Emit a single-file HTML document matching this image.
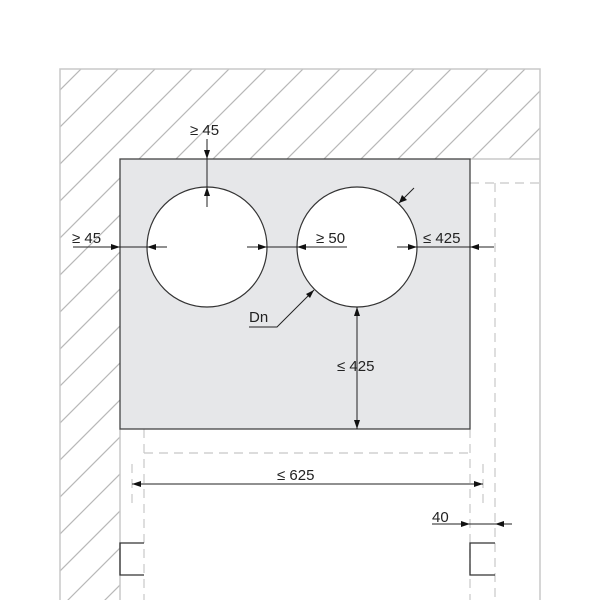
<!DOCTYPE html>
<html><head><style>html,body{margin:0;background:#fff;width:600px;height:600px;overflow:hidden}svg{display:block}</style></head><body>
<svg width="600" height="600" viewBox="0 0 600 600" xmlns="http://www.w3.org/2000/svg" font-family="Liberation Sans, sans-serif">
<defs>
<clipPath id="c"><path d="M60 69H540V159H120V600H60Z"/></clipPath>
</defs>
<g clip-path="url(#c)" stroke="#b8b8b8" stroke-width="1.2">
<path d="M40 110L100 50M40 147L130 57M40 184L170 54M40 221L200 61M40 258L240 58M40 295L270 65M40 332L310 62M40 369L345 64M40 406L380 66M40 443L420 63M40 480L455 65M40 517L490 67M40 554L530 64M40 591L565 66M40 628L600 68M60 645L640 65M80 662L680 62M100 679L720 59"/>
</g>
<g fill="none" stroke="#c8c8c8" stroke-width="1.5">
<path d="M60 600V69H540V600"/>
<path d="M470 159H540"/>
<path d="M120 429V600"/>
</g>
<g fill="none" stroke="#c8c8c8" stroke-width="1.2" stroke-dasharray="9,6">
<path d="M470 183H540M495 183V600M144 429V600M470 429V600M144 453H470"/>
<path d="M132 464V505M483 464V505"/>
</g>
<rect x="120" y="159" width="350" height="270" fill="#e6e7e9" stroke="#444" stroke-width="1.3"/>
<circle cx="207" cy="247" r="60" fill="#fff" stroke="#333" stroke-width="1.2"/>
<circle cx="357" cy="247" r="60" fill="#fff" stroke="#333" stroke-width="1.2"/>
<g stroke="#222" stroke-width="1" fill="none">
<path d="M207 139V207M73 247H167M247 247H347M297 247H347M397 247H494M357 307V429M249 327H277L314 290M414 188L399 203M132 484H483M432 524H512"/>
</g>
<g fill="#111">
<path d="M207 159l-3-9h6z"/><path d="M207 187l-3 9h6z"/>
<path d="M120 247l-9-3v6z"/><path d="M147 247l9-3v6z"/>
<path d="M267 247l-9-3v6z"/><path d="M297 247l9-3v6z"/>
<path d="M417 247l-9-3v6z"/><path d="M470 247l9-3v6z"/>
<path d="M357 307l-3 9h6z"/><path d="M357 429l-3-9h6z"/>
<path d="M314 290l-8 4 4 4z"/><path d="M399 203l3-8 5 5z"/>
<path d="M132 484l9-3v6z"/><path d="M483 484l-9-3v6z"/>
<path d="M470 524l-9-3v6z"/><path d="M495 524l9-3v6z"/>
</g>
<g fill="none" stroke="#333" stroke-width="1.3"><path d="M144 543H120V575H144M495 543H470V575H495"/></g>
<g font-size="15" fill="#222">
<text x="190" y="135">≥ 45</text>
<text x="72" y="243">≥ 45</text>
<text x="316" y="243">≥ 50</text>
<text x="423" y="243">≤ 425</text>
<text x="249" y="322">Dn</text>
<text x="337" y="371">≤ 425</text>
<text x="277" y="480">≤ 625</text>
<text x="432" y="522">40</text>
</g>
</svg>
</body></html>
